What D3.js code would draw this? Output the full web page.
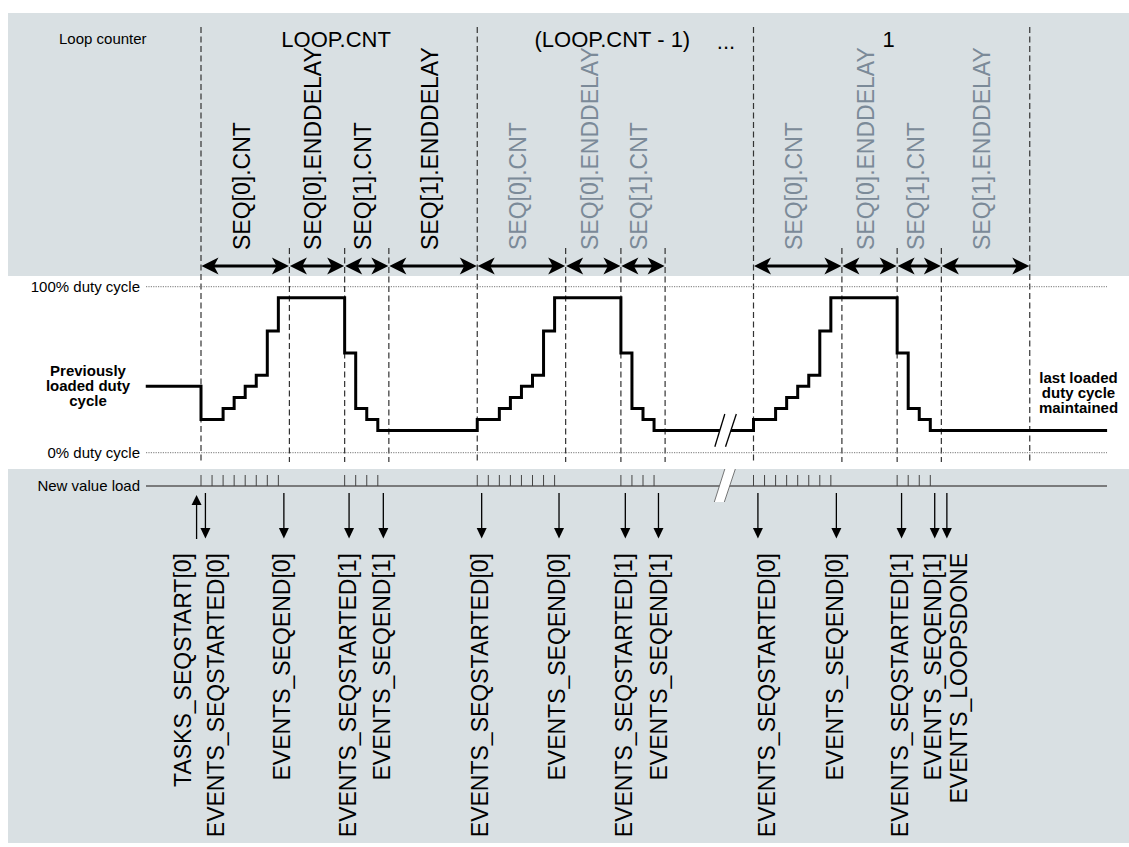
<!DOCTYPE html>
<html>
<head>
<meta charset="utf-8">
<script src="https://cdn.jsdelivr.net/npm/d3@7"></script>
<style>
  html, body { margin: 0; padding: 0; background: #ffffff; }
  svg { display: block; font-family: "Liberation Sans", Arial, Helvetica, sans-serif; }
</style>
</head>
<body>
<svg id="chart" width="1129" height="847"></svg>
<script>
// ---------------- data ----------------
const seqPhaseNames = ["SEQ[0].CNT", "SEQ[0].ENDDELAY", "SEQ[1].CNT", "SEQ[1].ENDDELAY"];
const seqPhaseUnits = [8, 5, 4, 8];              // PWM periods per phase
const loopStartUnits = [0, 25, 50];              // first period of each drawn loop
const loopLabels = ["LOOP.CNT", "(LOOP.CNT - 1)", "1"];
const loopPhasesShown = [4, 3, 4];
const previousDuty = 40;                         // % duty before start
const seq0Duty = [20, 20, 26.7, 33.3, 40, 46.7, 73.3, 93.3];
const seq1Duty = [60, 26.7, 20, 13.3];
const endUnit = 82;
const startUnit = -5;
const breakUnit = 47.45;

const eventLabels = ["TASKS_SEQSTART[0]", "EVENTS_SEQSTARTED[0]", "EVENTS_SEQEND[0]", "EVENTS_SEQSTARTED[1]", "EVENTS_SEQEND[1]",
  "EVENTS_SEQSTARTED[0]", "EVENTS_SEQEND[0]", "EVENTS_SEQSTARTED[1]", "EVENTS_SEQEND[1]",
  "EVENTS_SEQSTARTED[0]", "EVENTS_SEQEND[0]", "EVENTS_SEQSTARTED[1]", "EVENTS_SEQEND[1]", "EVENTS_LOOPSDONE"];
const eventUnits = [-0.4, 0.4, 7.5, 13.4, 16.5, 25.4, 32.4, 38.4, 41.4, 50.4, 57.5, 63.4, 66.4, 67.5];
const eventIsTask = [true, false, false, false, false, false, false, false, false, false, false, false, false, false];

// ---------------- layout ----------------
const labelNudge = [-12, 12, 0, 0, 0, 0, 0, 0, 2, 11, 0, 0, 0, 14];
const C = { panel: "#d9e0e3", grey: "#7b8a98", dash: "#333333", ink: "#000000" };
const FONT_BIG = 22, FONT_SEQ = 23, FONT_EV = 23, FONT_SMALL = 15;

const svg = d3.select("#chart");
const x = d3.scaleLinear().domain([0, 75]).range([201, 1029.75]);
const y = d3.scaleLinear().domain([0, 100]).range([452.7, 286.7]);
const lineL = 146, lineR = 1107;

// panels
svg.append("rect").attr("x", 8).attr("y", 13).attr("width", 1121).attr("height", 263).attr("fill", C.panel);
svg.append("rect").attr("x", 8).attr("y", 469).attr("width", 1121).attr("height", 374).attr("fill", C.panel);

// boundaries
const boundaries = new Map();
loopStartUnits.forEach((s, li) => {
  let t = s;
  boundaries.set(t, true);
  for (let p = 0; p < loopPhasesShown[li]; p++) {
    t += seqPhaseUnits[p];
    const isLoopEnd = p === 3;
    if (!boundaries.has(t) || isLoopEnd) boundaries.set(t, isLoopEnd || boundaries.get(t) || false);
  }
});
svg.append("g").selectAll("line").data(Array.from(boundaries.entries())).join("line")
  .attr("x1", d => x(d[0])).attr("x2", d => x(d[0]))
  .attr("y1", d => d[1] ? 27 : 248).attr("y2", 462)
  .attr("stroke", C.dash).attr("stroke-width", 1.2).attr("stroke-dasharray", "6,3.5");

// dotted reference lines
[100, 0].forEach(v => {
  svg.append("line").attr("x1", lineL).attr("x2", lineR).attr("y1", y(v)).attr("y2", y(v))
    .attr("stroke", "#777").attr("stroke-width", 1).attr("stroke-dasharray", "1.2,1.2");
});
svg.append("text").attr("x", 140).attr("y", y(100) + 5).attr("text-anchor", "end").attr("font-size", FONT_SMALL).text("100% duty cycle");
svg.append("text").attr("x", 140).attr("y", y(0) + 5).attr("text-anchor", "end").attr("font-size", FONT_SMALL).text("0% duty cycle");

// top labels
svg.append("text").attr("x", 59).attr("y", 44).attr("font-size", FONT_SMALL).text("Loop counter");
loopLabels.forEach((lab, li) => {
  svg.append("text").attr("x", x(loopStartUnits[li] + 12.5) - 3).attr("y", 47)
    .attr("text-anchor", "middle").attr("font-size", FONT_BIG).text(lab);
});
svg.append("text").attr("x", 726).attr("y", 49).attr("text-anchor", "middle").attr("font-size", FONT_BIG).text("...");

// phase arrows + labels
const segs = [];
loopStartUnits.forEach((s, li) => {
  let t = s;
  for (let p = 0; p < loopPhasesShown[li]; p++) {
    segs.push({ a: t, b: t + seqPhaseUnits[p], name: seqPhaseNames[p], li });
    t += seqPhaseUnits[p];
  }
});
const AY = 266;
const head = (tipX, dir) => {
  const L = 17, Hh = 8.5, N = 12.5;
  return `M${tipX},${AY} L${tipX + dir * L},${AY - Hh} L${tipX + dir * N},${AY} L${tipX + dir * L},${AY + Hh} Z`;
};
const gA = svg.append("g");
segs.forEach(s => {
  const xa = x(s.a) + 0.5, xb = x(s.b) - 0.5;
  gA.append("line").attr("x1", xa + 10).attr("x2", xb - 10).attr("y1", AY).attr("y2", AY)
    .attr("stroke", C.ink).attr("stroke-width", 3);
  gA.append("path").attr("d", head(xa, 1)).attr("fill", C.ink);
  gA.append("path").attr("d", head(xb, -1)).attr("fill", C.ink);
  const cx = (x(s.a) + x(s.b)) / 2 - 2;
  gA.append("text").attr("transform", `translate(${cx},250) rotate(-90)`)
    .attr("dy", "0.28em").attr("font-size", FONT_SEQ)
    .attr("fill", s.li === 0 ? C.ink : C.grey).text(s.name);
});

// waveform
const pts = [{ t: startUnit, d: previousDuty }];
const loads = [];
loopStartUnits.forEach(s => {
  seq0Duty.forEach((d, k) => { pts.push({ t: s + k, d }); loads.push(s + k); });
  const s1 = s + seqPhaseUnits[0] + seqPhaseUnits[1];
  seq1Duty.forEach((d, k) => { pts.push({ t: s1 + k, d }); loads.push(s1 + k); });
});
pts.push({ t: endUnit, d: seq1Duty[seq1Duty.length - 1] });
const line = d3.line().x(d => x(d.t)).y(d => y(d.d)).curve(d3.curveStepAfter);
svg.append("path").attr("d", line(pts)).attr("fill", "none").attr("stroke", C.ink)
  .attr("stroke-width", 3).attr("stroke-linejoin", "miter");

// break on waveform
const bx = x(breakUnit);
svg.append("path").attr("d", `M${bx - 10.5},446.7 L${bx - 0.5},414 L${bx + 11},414 L${bx + 0.2},446.7 Z`).attr("fill", "#fff");
[[-10.5, -0.5], [0.2, 11]].forEach(o => {
  svg.append("line").attr("x1", bx + o[0]).attr("y1", 446.7).attr("x2", bx + o[1]).attr("y2", 414)
    .attr("stroke", C.ink).attr("stroke-width", 1.3);
});

// side texts
const bold = (lines, cx, y0) => {
  const t = svg.append("text").attr("text-anchor", "middle").attr("font-size", FONT_SMALL).attr("font-weight", "bold");
  lines.forEach((l, i) => t.append("tspan").attr("x", cx).attr("y", y0 + i * 15).text(l));
};
bold(["Previously", "loaded duty", "cycle"], 88, 376);
bold(["last loaded", "duty cycle", "maintained"], 1078.5, 383);

// new value load
const NY = 486;
svg.append("line").attr("x1", lineL).attr("x2", lineR).attr("y1", NY).attr("y2", NY).attr("stroke", "#5a5a5a").attr("stroke-width", 1.6);
svg.append("text").attr("x", 140).attr("y", NY + 5).attr("text-anchor", "end").attr("font-size", FONT_SMALL).text("New value load");
svg.append("g").selectAll("line").data(loads).join("line")
  .attr("x1", d => x(d)).attr("x2", d => x(d)).attr("y1", 475).attr("y2", NY)
  .attr("stroke", "#444").attr("stroke-width", 1);
// break on load line
svg.append("path").attr("d", `M${bx - 11},502 L${bx - 0.5},469 L${bx + 10},469 L${bx - 1},502 Z`).attr("fill", "#fff");
[[-11, -0.5], [-1, 10]].forEach(o => {
  svg.append("line").attr("x1", bx + o[0]).attr("y1", 502).attr("x2", bx + o[1]).attr("y2", 469)
    .attr("stroke", "#555").attr("stroke-width", 0.8);
});

// events
const gE = svg.append("g");
eventLabels.forEach((lab, i) => {
  const ex = x(eventUnits[i]);
  if (eventIsTask[i]) {
    gE.append("line").attr("x1", ex).attr("x2", ex).attr("y1", 539).attr("y2", 504).attr("stroke", C.ink).attr("stroke-width", 1.3);
    gE.append("path").attr("d", `M${ex},495 L${ex - 5},505 L${ex + 5},505 Z`).attr("fill", C.ink);
  } else {
    gE.append("line").attr("x1", ex).attr("x2", ex).attr("y1", 493).attr("y2", 529).attr("stroke", C.ink).attr("stroke-width", 1.3);
    gE.append("path").attr("d", `M${ex},538.5 L${ex - 5},528 L${ex + 5},528 Z`).attr("fill", C.ink);
  }
  gE.append("text").attr("transform", `translate(${ex + labelNudge[i]},553) rotate(-90)`)
    .attr("dy", "0.28em").attr("text-anchor", "end").attr("font-size", FONT_EV).attr("fill", C.ink).text(lab);
});
</script>
</body>
</html>
